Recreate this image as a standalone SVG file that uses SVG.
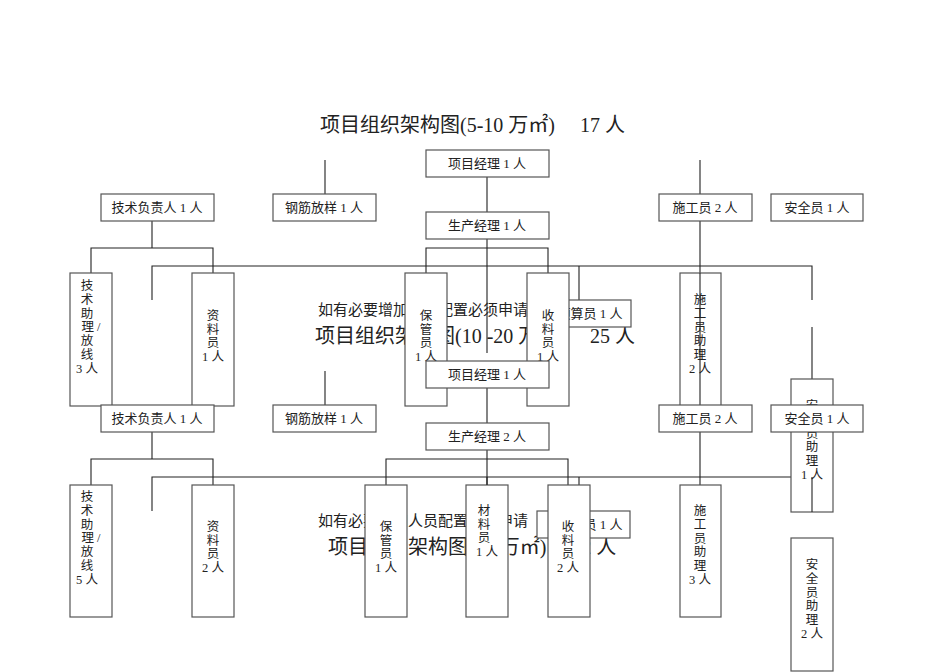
<svg xmlns="http://www.w3.org/2000/svg" width="950" height="672" viewBox="0 0 950 672">
<style>
.b{fill:#fff;stroke:#555;stroke-width:1.2}
.t{font-family:"Liberation Serif","Noto Sans CJK SC",serif;font-size:13px;fill:#222;text-anchor:middle}
.v{font-family:"Liberation Serif","Noto Sans CJK SC",serif;font-size:12.5px;fill:#222;text-anchor:middle}
.h{font-family:"Liberation Serif","Noto Sans CJK SC",serif;fill:#222}
.c{stroke:#222;stroke-width:1.1;fill:none}
</style>
<rect width="950" height="672" fill="#fff"/>
<text class="h" x="320" y="132" font-size="20">项目组织架构图(5-10 万㎡)　  17 人</text>
<text class="h" x="318" y="315" font-size="15">如有必要增加人员配置必须申请</text>
<text class="h" x="315" y="343" font-size="20">项目组织架构图(10 -20 万㎡)　  25 人</text>
<text class="h" x="318" y="526" font-size="15">如有必要增加人员配置必须申请</text>
<text class="h" x="328" y="554" font-size="20">项目组织架构图(20 万㎡)　  32 人</text>
<g id="connectors" class="c">
<path d="M487 177V353M152 221V248M91 273V248H213V273M152 300V266H812V300M812 327V379M579 266V300M426 273V248H548V273M325 160V194M700 160V194M700 221V406"/>
<path d="M487 388V423M487 450V485M152 432V459M91 485V459H213V485M152 511V477H812V512M386 485V459H568V485M579 477V485M325 371V405M700 432V485"/>
</g>
<g id="n-pm1"><rect class="b" x="426" y="150" width="123" height="27"/><text class="t" x="487" y="168">项目经理 1 人</text></g>
<g id="n-prod1"><rect class="b" x="426" y="212" width="123" height="27"/><text class="t" x="487" y="230">生产经理 1 人</text></g>
<g id="n-tech1"><rect class="b" x="101" y="194" width="113" height="27"/><text class="t" x="157" y="212">技术负责人 1 人</text></g>
<g id="n-steel1"><rect class="b" x="273" y="194" width="103" height="27"/><text class="t" x="324" y="212">钢筋放样 1 人</text></g>
<g id="n-con1"><rect class="b" x="659" y="194" width="93" height="27"/><text class="t" x="705" y="212">施工员 2 人</text></g>
<g id="n-safe1"><rect class="b" x="771" y="194" width="92" height="27"/><text class="t" x="817" y="212">安全员 1 人</text></g>
<g id="n-budget1"><rect class="b" x="538" y="300" width="93" height="27"/><text class="t" x="590" y="318">预算员 1 人</text></g>
<g id="n-ta1"><rect class="b" x="70" y="273" width="42" height="133"/><text class="v" x="91" y="290"><tspan x="87">技</tspan><tspan x="87" dy="13.8">术</tspan><tspan x="87" dy="13.8">助</tspan><tspan x="91" dy="13.8">理 /</tspan><tspan x="87" dy="13.8">放</tspan><tspan x="87" dy="13.8">线</tspan><tspan x="87" dy="13.8">3 人</tspan></text></g>
<g id="n-doc1"><rect class="b" x="192" y="273" width="42" height="133"/><text class="v" x="213" y="320"><tspan x="213">资</tspan><tspan x="213" dy="13.5">料</tspan><tspan x="213" dy="13.5">员</tspan><tspan x="213" dy="13.5">1 人</tspan></text></g>
<g id="n-keep1"><rect class="b" x="405" y="273" width="42" height="133"/><text class="v" x="426" y="320"><tspan x="426">保</tspan><tspan x="426" dy="13.5">管</tspan><tspan x="426" dy="13.5">员</tspan><tspan x="426" dy="13.5">1 人</tspan></text></g>
<g id="n-recv1"><rect class="b" x="527" y="273" width="42" height="133"/><text class="v" x="548" y="320"><tspan x="548">收</tspan><tspan x="548" dy="13.5">料</tspan><tspan x="548" dy="13.5">员</tspan><tspan x="548" dy="13.5">1 人</tspan></text></g>
<g id="n-ca1"><rect class="b" x="680" y="273" width="41" height="133"/><text class="v" x="700" y="304"><tspan x="700">施</tspan><tspan x="700" dy="13.8">工</tspan><tspan x="700" dy="13.8">员</tspan><tspan x="700" dy="13.8">助</tspan><tspan x="700" dy="13.8">理</tspan><tspan x="700" dy="13.8">2 人</tspan></text></g>
<path class="c" d="M700 273V406"/>
<g id="n-sa1"><rect class="b" x="791" y="379" width="42" height="133"/><text class="v" x="812" y="410"><tspan x="812">安</tspan><tspan x="812" dy="13.8">全</tspan><tspan x="812" dy="13.8">员</tspan><tspan x="812" dy="13.8">助</tspan><tspan x="812" dy="13.8">理</tspan><tspan x="812" dy="13.8">1 人</tspan></text></g>
<path class="c" d="M812 477V512"/>
<g id="n-pm2"><rect class="b" x="426" y="361" width="123" height="27"/><text class="t" x="487" y="379">项目经理 1 人</text></g>
<g id="n-prod2"><rect class="b" x="426" y="423" width="123" height="27"/><text class="t" x="487" y="441">生产经理 2 人</text></g>
<g id="n-tech2"><rect class="b" x="101" y="405" width="113" height="27"/><text class="t" x="157" y="423">技术负责人 1 人</text></g>
<g id="n-steel2"><rect class="b" x="273" y="405" width="103" height="27"/><text class="t" x="324" y="423">钢筋放样 1 人</text></g>
<g id="n-con2"><rect class="b" x="659" y="405" width="93" height="27"/><text class="t" x="705" y="423">施工员 2 人</text></g>
<g id="n-safe2"><rect class="b" x="771" y="405" width="92" height="27"/><text class="t" x="817" y="423">安全员 1 人</text></g>
<g id="n-budget2"><rect class="b" x="537" y="511" width="93" height="27"/><text class="t" x="590" y="529">预算员 1 人</text></g>
<g id="n-ta2"><rect class="b" x="70" y="485" width="42" height="132"/><text class="v" x="91" y="501"><tspan x="87">技</tspan><tspan x="87" dy="13.8">术</tspan><tspan x="87" dy="13.8">助</tspan><tspan x="91" dy="13.8">理 /</tspan><tspan x="87" dy="13.8">放</tspan><tspan x="87" dy="13.8">线</tspan><tspan x="87" dy="13.8">5 人</tspan></text></g>
<g id="n-doc2"><rect class="b" x="192" y="485" width="42" height="132"/><text class="v" x="213" y="531"><tspan x="213">资</tspan><tspan x="213" dy="13.5">料</tspan><tspan x="213" dy="13.5">员</tspan><tspan x="213" dy="13.5">2 人</tspan></text></g>
<g id="n-keep2"><rect class="b" x="365" y="485" width="42" height="132"/><text class="v" x="386" y="531"><tspan x="386">保</tspan><tspan x="386" dy="13.5">管</tspan><tspan x="386" dy="13.5">员</tspan><tspan x="386" dy="13.5">1 人</tspan></text></g>
<g id="n-mat2"><rect class="b" x="466" y="485" width="42" height="132"/><text class="v" x="484" y="515"><tspan x="484">材</tspan><tspan x="484" dy="13.5">料</tspan><tspan x="484" dy="13.5">员</tspan><tspan x="487" dy="13.5">1 人</tspan></text></g>
<path class="c" d="M487 477V485"/>
<g id="n-recv2"><rect class="b" x="548" y="485" width="42" height="132"/><text class="v" x="568" y="531"><tspan x="568">收</tspan><tspan x="568" dy="13.5">料</tspan><tspan x="568" dy="13.5">员</tspan><tspan x="568" dy="13.5">2 人</tspan></text></g>
<g id="n-ca2"><rect class="b" x="680" y="485" width="41" height="132"/><text class="v" x="700" y="515"><tspan x="700">施</tspan><tspan x="700" dy="13.8">工</tspan><tspan x="700" dy="13.8">员</tspan><tspan x="700" dy="13.8">助</tspan><tspan x="700" dy="13.8">理</tspan><tspan x="700" dy="13.8">3 人</tspan></text></g>
<g id="n-sa2"><rect class="b" x="791" y="538" width="42" height="133"/><text class="v" x="812" y="569"><tspan x="812">安</tspan><tspan x="812" dy="13.8">全</tspan><tspan x="812" dy="13.8">员</tspan><tspan x="812" dy="13.8">助</tspan><tspan x="812" dy="13.8">理</tspan><tspan x="812" dy="13.8">2 人</tspan></text></g>
</svg>
